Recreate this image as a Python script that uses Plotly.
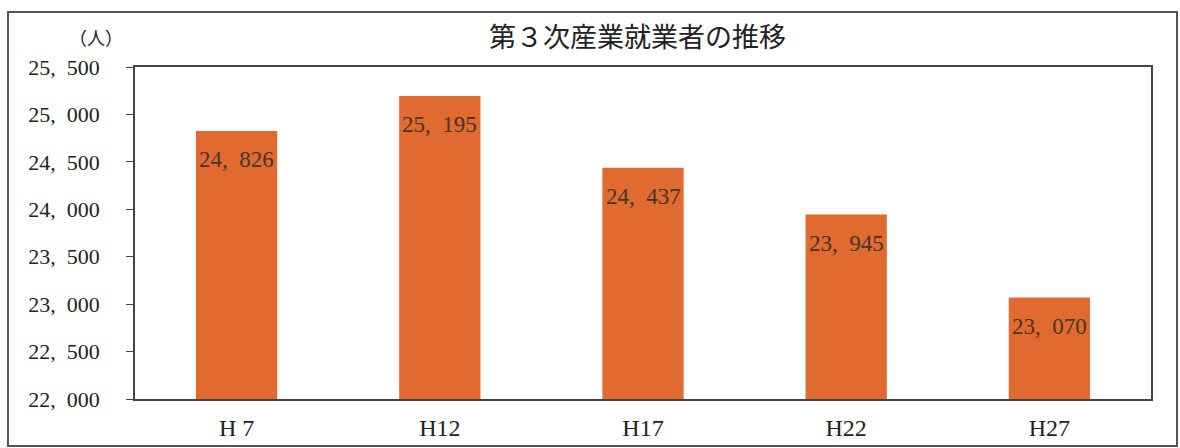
import plotly.graph_objects as go

categories = ["H 7", "H12", "H17", "H22", "H27"]
values = [24826, 25195, 24437, 23945, 23070]
value_labels = ["24,\u00a0 826", "25,\u00a0 195", "24,\u00a0 437", "23,\u00a0 945", "23,\u00a0 070"]
tick_vals = [22000, 22500, 23000, 23500, 24000, 24500, 25000, 25500]
tick_text = ["22,\u00a0 000", "22,\u00a0 500", "23,\u00a0 000", "23,\u00a0 500",
             "24,\u00a0 000", "24,\u00a0 500", "25,\u00a0 000", "25,\u00a0 500"]

W, H = 1180, 448
L, T = 135, 67
R = W - 1151
B = H - 399
pw, ph = W - L - R, H - T - B

def px(x):
    return (x - L) / pw

def py(y):
    return (H - B - y) / ph

serif = "Liberation Serif, DejaVu Serif, serif"
cjk = "Noto Sans CJK JP"

fig = go.Figure()
fig.add_trace(go.Bar(
    x=categories, y=values,
    marker=dict(color="#E06A30", line=dict(width=0)),
    width=0.4,
    hoverinfo="skip",
))

for c, v, t in zip(categories, values, value_labels):
    fig.add_annotation(x=c, y=v, xref="x", yref="y", text=t, showarrow=False,
                       yshift=-29, font=dict(family=serif, size=23, color="#4a3424"))

fig.add_annotation(xref="paper", yref="paper", x=px(96), y=py(37),
                   text="（人）", showarrow=False, xanchor="center", yanchor="middle",
                   font=dict(family=cjk, size=18, color="#222"))
fig.add_annotation(xref="paper", yref="paper", x=px(637), y=py(36),
                   text="第３次産業就業者の推移", showarrow=False, xanchor="center", yanchor="middle",
                   font=dict(family=cjk, size=27, color="#222"))

# outer frame
fig.add_shape(type="rect", xref="paper", yref="paper",
              x0=px(8), x1=px(1177),
              y0=py(446), y1=py(12),
              line=dict(color="#555", width=2))

fig.update_layout(
    width=W, height=H,
    margin=dict(l=L, r=R, t=T, b=B, autoexpand=False),
    paper_bgcolor="white", plot_bgcolor="white",
    showlegend=False,
    xaxis=dict(showline=True, linecolor="#444", linewidth=1.5, mirror=True,
               ticks="", tickfont=dict(family=serif, size=24, color="#222"),
               showgrid=False, ticklabelstandoff=6, automargin=False),
    yaxis=dict(range=[22000, 25500], tickvals=tick_vals, ticktext=tick_text,
               showline=True, linecolor="#444", linewidth=1.5, mirror=True,
               ticks="outside", ticklen=7, tickcolor="#444", showgrid=False,
               tickfont=dict(family=serif, size=22, color="#222"), ticklabelstandoff=22,
               automargin=False),
)

fig.write_html("out.html", config={"displayModeBar": False},
               post_script="document.body.style.margin='0';document.body.style.overflow='hidden';")
